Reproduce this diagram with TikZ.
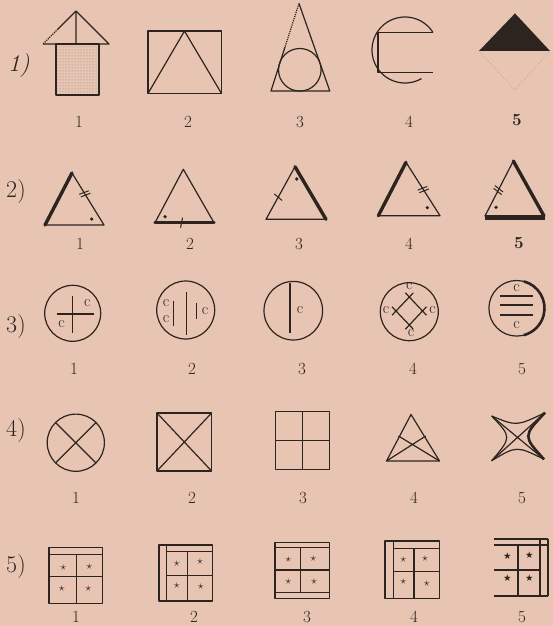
\documentclass[tikz,border=0pt]{standalone}
\usepackage{amsmath}
\usepackage{amssymb}
\usepackage{tikz}
\usepackage{xcolor}
\usetikzlibrary{patterns, decorations.markings, calc}
\definecolor{Paper}{RGB}{231,197,178}
\definecolor{Ink}{RGB}{45,36,32}

\tikzset{
  fig/.style={draw=Ink, line width=1.2pt, line join=round},
  heavy/.style={draw=Ink, line width=3.4pt, line cap=round},
  rowlbl/.style={text=Ink, inner sep=0pt, font=\fontsize{24}{26}\selectfont},
  numlbl/.style={text=Ink, inner sep=0pt, font=\fontsize{17}{18}\selectfont},
  letter/.style={text=Ink, inner sep=0pt, font=\fontsize{16}{17}\selectfont},
  starlbl/.style={text=Ink, inner sep=0pt, font=\fontsize{13}{14}\selectfont},
  pip/.style={fill=Ink},
  tickone/.style={postaction={decorate, decoration={markings,
      mark=at position #1 with {\draw[Ink, line width=1pt] (-1pt,-5pt) -- (1pt,5pt);}}}},
  ticktwo/.style={postaction={decorate, decoration={markings,
      mark=at position #1 with {\draw[Ink, line width=1pt] (-2.5pt,-5pt) -- (-0.5pt,5pt) (0.5pt,-5pt) -- (2.5pt,5pt);}}}},
}

\begin{document}
\begin{tikzpicture}[x=1pt, y=-1pt]
    \fill[Paper] (0,0) rectangle (553,626);
    \useasboundingbox (0,0) rectangle (553,626);

    % Row 1
    \node[rowlbl, font=\fontsize{24}{26}\selectfont\itshape] (r1) at (19,66) {1)};
    \fill[pattern=dots, pattern color=Ink!55] (56,44) rectangle (99,95);
    \draw[fig] (56,44) rectangle (99,95);
    \draw[fig] (43,44) -- (109,44) -- (76,11) (76,11) -- (76,44);
    \draw[fig] (76,11) -- (58,29); \draw[fig, densely dotted] (58,29) -- (43,44);
    \draw[fig] (148,31) rectangle (221.5,93.5);
    \draw[fig] (148,93.5) -- (184.5,31) -- (221.5,93.5);
    \draw[fig] (285,47) -- (271,91) -- (329.8,91) -- (299,3.5);
    \draw[fig, densely dotted] (299,3.5) -- (285,47);
    \draw[fig] (299.8,69.8) circle[radius=21.3];
    \draw[fig] (433,32.4) -- (378,32.4) -- (378,72.3) -- (433,72.3);
    \draw[fig] plot[domain=-300:-32, samples=80, smooth] ({405+33*cos(\x)}, {50+33*sin(\x)});
    \fill[Ink] (479,51) -- (515,13.4) -- (550,51) -- cycle;
    \draw[Ink!70, thin, dotted] (479,51) -- (515,90) -- (550,51);
    \node[numlbl] (r1n1) at (79,122) {1};
    \node[numlbl] (r1n2) at (188,122) {2};
    \node[numlbl] (r1n3) at (300,122) {3};
    \node[numlbl] (r1n4) at (409,122) {4};
    \node[numlbl, font=\fontsize{17}{18}\selectfont\bfseries] (r1n5) at (517,120) {5};

    % Row 2
    \node[rowlbl] (r2) at (16,192) {2)};
    \draw[fig] (72,173) -- (45,225) -- (104,225) -- cycle;
    \draw[heavy] (72,173) -- (45,225);
    \path[ticktwo=0.4] (72,173) -- (104,225);
    \fill[pip] (91.7,219) circle[radius=1.8];
    \draw[fig] (183.3,169.3) -- (155,222.7) -- (214,222.7) -- cycle;
    \draw[heavy] (155,222.7) -- (214,222.7);
    \path[tickone=0.45] (155,222.7) -- (214,222.7);
    \fill[pip] (165,216.7) circle[radius=1.8];
    \draw[fig] (295,166.7) -- (266,219.3) -- (326,219.3) -- cycle;
    \draw[heavy] (295,166.7) -- (326,219.3);
    \path[tickone=0.58] (295,166.7) -- (266,219.3);
    \fill[pip] (296.7,179) circle[radius=1.8];
    \draw[fig] (406,162.3) -- (378.3,215.7) -- (440,215.7) -- cycle;
    \draw[heavy] (406,162.3) -- (378.3,215.7);
    \path[ticktwo=0.51] (406,162.3) -- (440,215.7);
    \fill[pip] (427.3,207.7) circle[radius=1.8];
    \draw[fig] (513.3,161) -- (485,216) -- (544,216) -- cycle;
    \draw[heavy] (513.3,161) -- (544,216);
    \draw[heavy, line width=5pt, line cap=butt] (485,217.5) -- (545,217.5);
    \path[ticktwo=0.53] (513.3,161) -- (485,216);
    \fill[pip] (496,207.3) circle[radius=1.8];
    \node[numlbl] (r2n1) at (80,244) {1};
    \node[numlbl] (r2n2) at (190,244) {2};
    \node[numlbl] (r2n3) at (299,244) {3};
    \node[numlbl] (r2n4) at (409,244) {4};
    \node[numlbl, font=\fontsize{17}{18}\selectfont\bfseries] (r2n5) at (519,243) {5};

    % Row 3
    \node[rowlbl] (r3) at (16,327) {3)};
    \draw[fig] (72.7,313.3) circle[radius=28];
    \draw[fig] (72.7,296) -- (72.7,333.3) (56.7,314) -- (94,314);
    \node[letter] (c1a) at (87.3,303) {c};
    \node[letter] (c1b) at (61.7,324) {c};
    \draw[fig] (185.7,310) circle[radius=29];
    \draw[fig] (186.7,291.7) -- (186.7,335) (173.3,300.7) -- (173.3,326) (196.7,302.7) -- (196.7,319.3);
    \node[letter] (c2a) at (166,303) {c};
    \node[letter] (c2b) at (166,319) {c};
    \node[letter] (c2c) at (205,311) {c};
    \draw[fig] (293.3,310.7) circle[radius=29.3];
    \draw[fig] (290,282.7) -- (290,332.7);
    \node[letter] (c3a) at (300,310) {c};
    \draw[fig] (409.3,311.7) circle[radius=29];
    \coordinate (dT) at (409.3,297); \coordinate (dL) at (396,311);
    \coordinate (dR) at (422.5,311); \coordinate (dB) at (409.3,325);
    \draw[fig] ($(dL)!-0.3!(dT)$) -- ($(dT)!-0.3!(dL)$) ($(dT)!-0.3!(dR)$) -- ($(dR)!-0.3!(dT)$)
               ($(dR)!-0.3!(dB)$) -- ($(dB)!-0.3!(dR)$) ($(dB)!-0.3!(dL)$) -- ($(dL)!-0.3!(dB)$);
    \node[letter] (c4a) at (409.3,286.5) {c};
    \node[letter] (c4b) at (386,310) {c};
    \node[letter] (c4c) at (432.5,310.5) {c};
    \node[letter] (c4d) at (411,333) {c};
    \draw[fig] (516.7,308.3) circle[radius=27.8];
    \draw[heavy, line width=2.6pt, line cap=butt] (523.9,281.4) arc[start angle=-75, end angle=75, radius=27.8];
    \draw[fig] (500,296) -- (533.3,296) (500,305) -- (533.3,305) (500,315) -- (533.3,315);
    \node[letter] (c5a) at (516.7,288.5) {c};
    \node[letter] (c5b) at (516.7,325.5) {c};
    \node[numlbl] (r3n1) at (74,369) {1};
    \node[numlbl] (r3n2) at (192,369) {2};
    \node[numlbl] (r3n3) at (302,369) {3};
    \node[numlbl] (r3n4) at (413,369) {4};
    \node[numlbl] (r3n5) at (522,369) {5};

    % Row 4
    \node[rowlbl] (r4) at (16,431) {4)};
    \draw[fig] (75.8,442.7) circle[radius=28.6];
    \draw[fig] (55.6,422.5) -- (96,462.9) (96,422.5) -- (55.6,462.9);
    \draw[fig] (157,413) rectangle (211.6,471);
    \draw[fig] (157,413) -- (211.6,471) (211.6,413) -- (157,471);
    \draw[fig] (275.8,411.3) rectangle (329.8,469.5);
    \draw[fig] (302.8,411.3) -- (302.8,469.5) (275.8,440.4) -- (329.8,440.4);
    \draw[fig] (411,414.5) -- (386.5,461) -- (439.5,461) -- cycle;
    \draw[fig] (386.5,461) -- (425.7,436) (439.5,461) -- (398.5,436);
    \coordinate (sTL) at (491.7,416); \coordinate (sTR) at (545,412.7);
    \coordinate (sBL) at (491.7,460.7); \coordinate (sBR) at (544,459.3);
    \draw[fig] (sTL) .. controls (516.6,426.3) .. (sTR) (sBR) .. controls (516.7,445.7) .. (sBL)
               .. controls (511.7,437.2) .. (sTL);
    \draw[fig, line width=2.6pt] (sTR) .. controls (522.9,436) .. (sBR);
    \draw[fig] (sTL) -- (sBR) (sTR) -- (sBL);
    \node[numlbl] (r4n1) at (76,498) {1};
    \node[numlbl] (r4n2) at (192,498) {2};
    \node[numlbl] (r4n3) at (303,498) {3};
    \node[numlbl] (r4n4) at (414,498) {4};
    \node[numlbl] (r4n5) at (522,498) {5};

    % Row 5
    \node[rowlbl] (r5) at (16,567) {5)};
    \draw[fig] (49,547.3) rectangle (102.7,603.3);
    \draw[fig] (49,554.3) -- (102.7,554.3) (76.7,554.3) -- (76.7,603.3) (49,576.7) -- (102.7,576.7);
    \node[starlbl] (s1a) at (63.3,567.7) {$\star$}; \node[starlbl] (s1b) at (89.3,566.7) {$\star$};
    \node[starlbl] (s1c) at (61.7,589) {$\star$};   \node[starlbl] (s1d) at (88.3,588.3) {$\star$};
    \draw[fig] (159,545) rectangle (212.7,601);
    \draw[fig] (166.7,551.7) -- (212.7,551.7) (166.7,545) -- (166.7,601)
               (187.3,551.7) -- (187.3,601) (166.7,575.7) -- (212.7,575.7);
    \node[starlbl] (s2a) at (176.7,563.3) {$\star$}; \node[starlbl] (s2b) at (200,561.7) {$\star$};
    \node[starlbl] (s2c) at (176.7,585.7) {$\star$}; \node[starlbl] (s2d) at (200.7,586.7) {$\star$};
    \draw[fig] (275,542.3) rectangle (329.3,598.3);
    \draw[fig] (275,547.7) -- (329.3,547.7) (275,592.3) -- (329.3,592.3)
               (300.7,547.7) -- (300.7,592.3) (275,570) -- (329.3,570);
    \node[starlbl] (s3a) at (288.3,560) {$\star$};   \node[starlbl] (s3b) at (313.3,559) {$\star$};
    \node[starlbl] (s3c) at (288.3,581.7) {$\star$}; \node[starlbl] (s3d) at (314,581.7) {$\star$};
    \draw[fig] (385,541) rectangle (439.3,598.3);
    \draw[fig] (393.3,548.3) -- (439.3,548.3) (393.3,541) -- (393.3,598.3)
               (414,548.3) -- (414,598.3) (393.3,571.7) -- (439.3,571.7);
    \node[starlbl] (s4a) at (403.3,560) {$\star$};   \node[starlbl] (s4b) at (425,559) {$\star$};
    \node[starlbl] (s4c) at (403.3,581.7) {$\star$}; \node[starlbl] (s4d) at (426.7,583.3) {$\star$};
    \draw[fig] (494,539) -- (548,539) (494,545) -- (548,545) (540,539) -- (540,596)
               (548,539) -- (548,596) (494,596) -- (548,596) (494,570) -- (540,570) (518,545) -- (518,596);
    \node[starlbl, font=\fontsize{8}{9}\selectfont] (s5a) at (507.3,556.7) {$\bigstar$};
    \node[starlbl, font=\fontsize{8}{9}\selectfont] (s5b) at (529.3,555.7) {$\bigstar$};
    \node[starlbl, font=\fontsize{8}{9}\selectfont] (s5c) at (507.3,578.3) {$\bigstar$};
    \node[starlbl, font=\fontsize{8}{9}\selectfont] (s5d) at (529.3,579) {$\bigstar$};
    \node[numlbl] (r5n1) at (76,617) {1};
    \node[numlbl] (r5n2) at (194,617) {2};
    \node[numlbl] (r5n3) at (307,617) {3};
    \node[numlbl] (r5n4) at (414,617) {4};
    \node[numlbl] (r5n5) at (522,617) {5};
\end{tikzpicture}
\end{document}
